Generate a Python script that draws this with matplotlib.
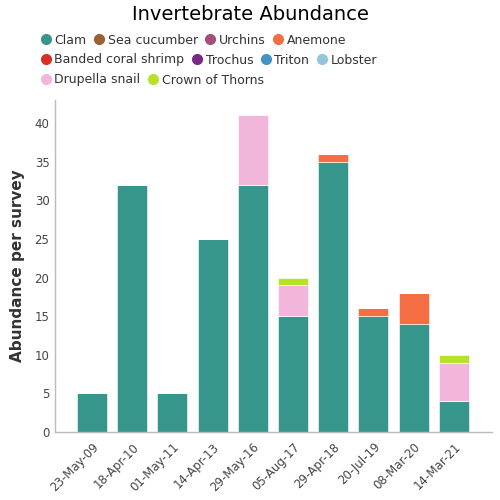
import numpy as np
import matplotlib as mpl
mpl.use("Agg")
import matplotlib.pyplot as plt
from matplotlib.lines import Line2D

dates = ["23-May-09", "18-Apr-10", "01-May-11", "14-Apr-13", "29-May-16",
         "05-Aug-17", "29-Apr-18", "20-Jul-19", "08-Mar-20", "14-Mar-21"]

species = ["Clam", "Sea cucumber", "Urchins", "Anemone",
           "Banded coral shrimp", "Trochus", "Triton", "Lobster",
           "Drupella snail", "Crown of Thorns"]
colors = ["#36968C", "#9A6230", "#A64D79", "#F46D43",
          "#D73027", "#762A83", "#4393C3", "#92C5DE",
          "#F1B6DA", "#B8E12A"]

clam = [5, 32, 5, 25, 32, 15, 35, 15, 14, 4]
sea_cucumber = [0] * 10
urchins = [0] * 10
anemone = [0, 0, 0, 0, 0, 0, 1, 1, 4, 0]
shrimp = [0] * 10
trochus = [0] * 10
triton = [0] * 10
lobster = [0] * 10
drupella = [0, 0, 0, 0, 9, 4, 0, 0, 0, 5]
cots = [0, 0, 0, 0, 0, 1, 0, 0, 0, 1]

series = [clam, sea_cucumber, urchins, anemone, shrimp,
          trochus, triton, lobster, drupella, cots]

fig = plt.figure(figsize=(5, 5), dpi=100)
ax = fig.add_axes([0.11, 0.136, 0.874, 0.664])

x = np.arange(len(dates))
bottom = np.zeros(len(dates))
for name, vals, c in zip(species, series, colors):
    vals = np.asarray(vals, dtype=float)
    ax.bar(x, vals, 0.75, bottom=bottom, color=c, edgecolor="white",
           linewidth=0.4, label=name)
    bottom += vals

ax.set_xlim(-0.92, 9.95)
ax.set_ylim(0, 43)
ax.set_yticks(range(0, 45, 5))
ax.set_xticks(x)
ax.set_xticklabels(dates, rotation=45, ha="right", rotation_mode="anchor")
ax.tick_params(axis="both", length=0, labelsize=8.5, colors="#444444", pad=4)
ax.tick_params(axis="x", pad=6)
for s in ["top", "right"]:
    ax.spines[s].set_visible(False)
for s in ["left", "bottom"]:
    ax.spines[s].set_color("#BBBBBB")
    ax.spines[s].set_linewidth(1.0)
ax.set_ylabel("Abundance per survey", fontsize=11, fontweight="bold",
              color="#333333", labelpad=7)

fig.text(0.5, 0.972, "Invertebrate Abundance", ha="center", va="center",
         fontsize=14, color="black")

rows = [species[0:4], species[4:8], species[8:10]]
ypos = [0.92, 0.88, 0.84]
for row, yy in zip(rows, ypos):
    handles = [Line2D([0], [0], marker="o", ls="", ms=7,
                      color=colors[species.index(n)], label=n) for n in row]
    fig.legend(handles=handles, loc="center left", bbox_to_anchor=(0.08, yy),
               ncol=len(row), frameon=False, fontsize=9, handletextpad=0.25,
               columnspacing=0.55, handlelength=0.9, borderaxespad=0,
               borderpad=0, labelcolor="#333333")

fig.savefig("out.png", dpi=100)
